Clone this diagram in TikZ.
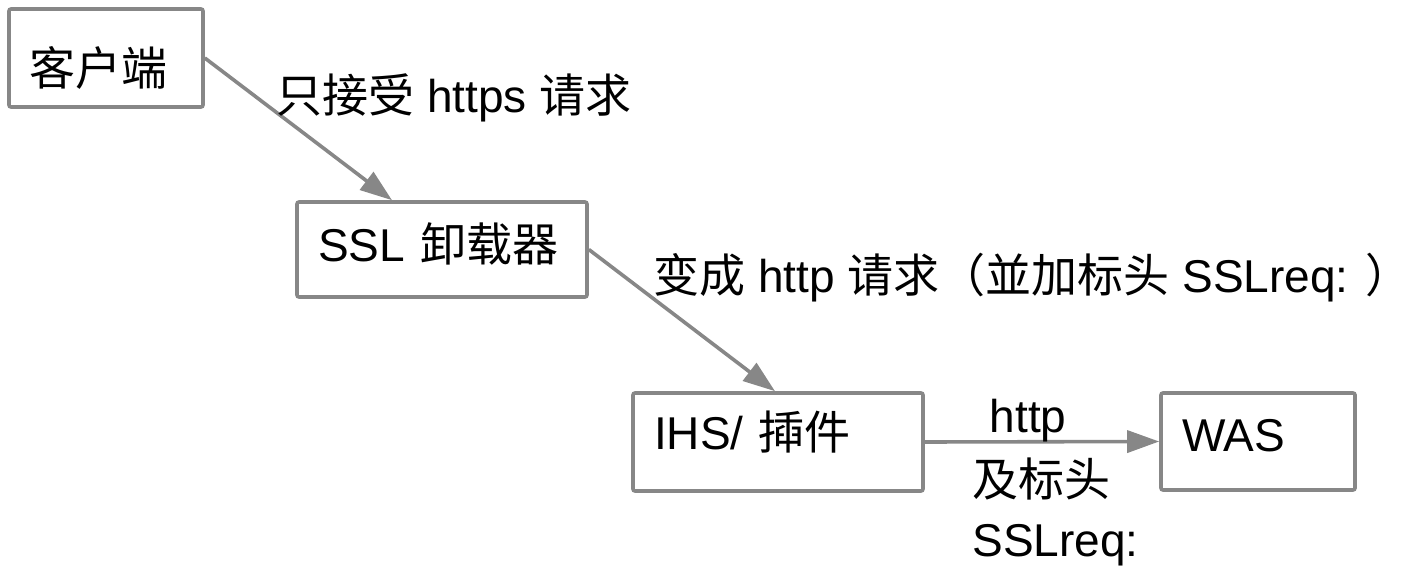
\documentclass[tikz,border=0pt]{standalone}
\usepackage{fontspec}
\setmainfont{Liberation Sans}
\newfontfamily\cjk{Noto Sans CJK SC}
\usetikzlibrary{arrows.meta}
\definecolor{flowGray}{HTML}{878787}
\tikzset{
  flowBox/.style={
    draw=flowGray,
    line width=1.8pt,
    rounded corners=1pt,
    fill=white,
    align=left,
    inner xsep=10.5pt,
    inner ysep=0pt,
    font=\fontsize{23pt}{28pt}\selectfont
  },
  flowArrow/.style={
    -{Triangle[length=16pt,width=11pt]},
    line width=1.8pt,
    draw=flowGray
  },
  flowLabel/.style={
    inner sep=0pt,
    align=left,
    font=\fontsize{23pt}{30pt}\selectfont
  }
}

\begin{document}
\begin{tikzpicture}[x=0.5pt, y=-0.5pt]
  \useasboundingbox (0,0) rectangle (1410,566);

  \node[flowBox, text width=76pt, text height=38.5pt, text depth=10.5pt] (client) at (106,58) {{\cjk 客户端}};
  \node[flowBox, text width=124pt, text height=30pt, text depth=17.5pt] (offload) at (442,249.5) {SSL {\cjk 卸载器}};
  \node[flowBox, text width=124pt, text height=28.5pt, text depth=20.5pt] (ihs) at (778,442) {IHS/ {\cjk 揷件}};
  \node[flowBox, text width=76pt, text height=29.5pt, text depth=19pt] (was) at (1258,441.5) {WAS};

  \draw[flowArrow] (client.east) -- ([xshift=-25pt]offload.north);
  \draw[flowArrow] (offload.east) -- ([xshift=-1.5pt]ihs.north);
  \draw[flowArrow] (ihs.east) -- (was.west);

  \node[flowLabel, anchor=base west] (httpsOnly) at (276,113) {{\cjk 只接受} https {\cjk 请求}};
  \node[flowLabel, anchor=base west] (toHttp) at (653,293) {{\cjk 变成} http {\cjk 请求（並加标头} SSLreq: {\cjk ）}};
  \node[flowLabel, anchor=base] (httpTop) at (1028,433) {http};
  \node[flowLabel, anchor=base west] (header) at (972,557) {{\cjk 及标头}\\SSLreq:};
\end{tikzpicture}
\end{document}
